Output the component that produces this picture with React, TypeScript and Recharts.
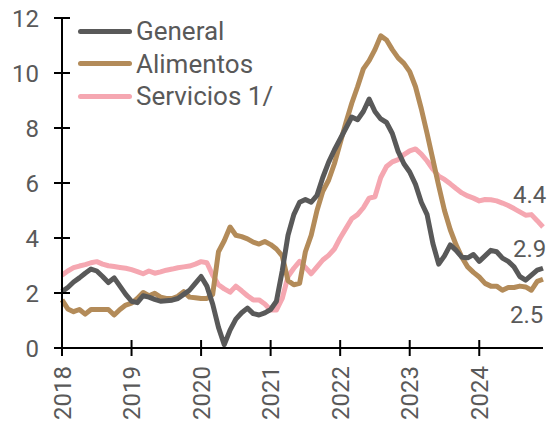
import { LineChart, Line, XAxis, YAxis, Legend } from 'recharts';

// monthly, Jan 2018 - Dec 2024
const years = ['2018', '2019', '2020', '2021', '2022', '2023', '2024'];

const general = [
  2.05, 2.2, 2.4, 2.55, 2.72, 2.87, 2.8, 2.6, 2.38, 2.55, 2.25, 1.95,
  1.7, 1.65, 1.9, 1.85, 1.77, 1.7, 1.72, 1.74, 1.8, 1.95, 2.1, 2.35,
  2.6, 2.25, 1.6, 0.75, 0.12, 0.65, 1.05, 1.28, 1.45, 1.25, 1.2, 1.28,
  1.4, 1.7, 2.8, 4.1, 4.85, 5.3, 5.4, 5.3, 5.55, 6.2, 6.75, 7.2,
  7.6, 8.0, 8.4, 8.3, 8.6, 9.05, 8.6, 8.33, 8.2, 7.8, 7.15, 6.7,
  6.4, 5.95, 5.3, 4.85, 3.8, 3.05, 3.35, 3.75, 3.55, 3.3, 3.28, 3.4,
  3.15, 3.35, 3.55, 3.5, 3.27, 3.15, 2.95, 2.6, 2.47, 2.65, 2.83, 2.9,
];

const alimentos = [
  1.75, 1.42, 1.32, 1.4, 1.23, 1.4, 1.4, 1.4, 1.4, 1.2, 1.4, 1.56,
  1.63, 1.8, 2.02, 1.9, 1.99, 1.85, 1.8, 1.8, 1.88, 2.05, 1.85, 1.83,
  1.8, 1.8, 1.95, 3.5, 3.9, 4.4, 4.1, 4.05, 3.97, 3.85, 3.78, 3.87,
  3.76, 3.6, 3.35, 2.45, 2.3, 2.35, 3.5, 4.1, 5.0, 5.7, 6.1, 6.7,
  7.45, 8.2, 8.9, 9.5, 10.15, 10.45, 10.85, 11.35, 11.2, 10.85, 10.55, 10.35,
  10.05, 9.5, 8.7, 7.8, 6.85, 5.9, 5.0, 4.3, 3.75, 3.3, 2.95, 2.75,
  2.58, 2.35, 2.25, 2.25, 2.1, 2.2, 2.2, 2.25, 2.22, 2.1, 2.42, 2.5,
];

const servicios = [
  2.65, 2.8, 2.92, 2.98, 3.03, 3.1, 3.14, 3.05, 2.99, 2.96, 2.93, 2.9,
  2.85, 2.78, 2.7, 2.8, 2.72, 2.77, 2.83, 2.87, 2.92, 2.95, 2.98, 3.05,
  3.14, 3.1, 2.65, 2.3, 2.15, 2.03, 2.25, 2.08, 1.9, 1.75, 1.75, 1.6,
  1.38, 1.38, 1.8, 2.6, 2.9, 3.15, 2.93, 2.7, 2.95, 3.2, 3.37, 3.6,
  4.0, 4.35, 4.7, 4.85, 5.1, 5.45, 5.5, 6.2, 6.6, 6.77, 6.85, 7.03,
  7.17, 7.24, 7.05, 6.8, 6.5, 6.25, 6.13, 5.97, 5.8, 5.64, 5.53, 5.45,
  5.35, 5.4, 5.39, 5.35, 5.27, 5.18, 5.07, 4.95, 4.83, 4.85, 4.63, 4.4,
];

const yTicks = [0, 2, 4, 6, 8, 10, 12];
const xTicks = years.map((_, i) => i * 12);

const data = general.map((g, i) => ({
  t: i,
  general: g,
  alimentos: alimentos[i],
  servicios: servicios[i],
}));
const LAST = data.length - 1;

const FONT = 'Roboto, sans-serif';
const TEXT = '#595959';
const C_GEN = '#595959';
const C_ALI = '#b38b59';
const C_SER = '#f5a7b1';

const series = [
  { key: 'general', name: 'General', color: C_GEN },
  { key: 'alimentos', name: 'Alimentos', color: C_ALI },
  { key: 'servicios', name: 'Servicios 1/', color: C_SER },
];

const YTick = (props: any) => {
  const { x, y, payload } = props;
  const ax = x + 25;
  return (
    <g>
      <line x1={ax - 8} x2={ax + 8} y1={y} y2={y} stroke="#000" strokeWidth={2} />
      <text x={x + 2} y={y} dy="0.36em" textAnchor="end" fill={TEXT} fontSize={24} fontFamily={FONT}>
        {payload.value}
      </text>
    </g>
  );
};

const XTick = (props: any) => {
  const { x, y, payload } = props;
  const ay = y - 8;
  const ty = ay + 18;
  return (
    <g>
      <line x1={x} x2={x} y1={ay - 8} y2={ay + 8} stroke="#000" strokeWidth={2} />
      <text
        x={x}
        y={ty}
        dy="0.36em"
        textAnchor="end"
        transform={`rotate(-90, ${x}, ${ty})`}
        fill={TEXT}
        fontSize={24}
        fontFamily={FONT}
      >
        {years[payload.value / 12]}
      </text>
    </g>
  );
};

// value label at the last point of each line
const endLabel = (dx: number, dy: number) => (props: any) => {
  if (props.index !== LAST) return null;
  return (
    <text x={props.x + dx} y={props.y + dy} fill={TEXT} fontSize={24} fontFamily={FONT}>
      {Number(props.value).toFixed(1)}
    </text>
  );
};

const LegendBox = () => (
  <div style={{ fontFamily: FONT, fontSize: 26, color: TEXT }}>
    {series.map((s) => (
      <div key={s.key} style={{ display: 'flex', alignItems: 'center', height: 32.5 }}>
        <div style={{ width: 54, height: 5, borderRadius: 3, background: s.color, marginRight: 4 }} />
        <span style={{ lineHeight: '26px' }}>{s.name}</span>
      </div>
    ))}
  </div>
);

export default function App() {
  return (
    <div style={{ position: 'absolute', left: 0, top: 0, width: 547, height: 427, background: '#fff' }}>
      <LineChart width={547} height={427} data={data} margin={{ top: 18, right: 4, left: 0, bottom: 0 }}>
        <XAxis
          dataKey="t"
          type="number"
          domain={[0, LAST]}
          ticks={xTicks}
          interval={0}
          height={79}
          tickSize={8}
          tickMargin={0}
          tickLine={false}
          axisLine={{ stroke: '#000', strokeWidth: 2 }}
          tick={<XTick />}
        />
        <YAxis
          type="number"
          domain={[0, 12]}
          ticks={yTicks}
          interval={0}
          width={62}
          tickSize={8}
          tickMargin={17}
          tickLine={false}
          axisLine={{ stroke: '#000', strokeWidth: 2 }}
          tick={<YTick />}
        />
        <Legend
          layout="vertical"
          align="center"
          verticalAlign="middle"
          wrapperStyle={{ left: 78, top: 15, width: 'auto', height: 'auto' }}
          content={<LegendBox />}
        />
        <Line
          dataKey="servicios"
          name="Servicios 1/"
          stroke={C_SER}
          strokeWidth={5}
          dot={false}
          strokeLinejoin="round"
          isAnimationActive={false}
          label={endLabel(-30, -24)}
        />
        <Line
          dataKey="alimentos"
          name="Alimentos"
          stroke={C_ALI}
          strokeWidth={5}
          dot={false}
          strokeLinejoin="round"
          isAnimationActive={false}
          label={endLabel(-33, 44)}
        />
        <Line
          dataKey="general"
          name="General"
          stroke={C_GEN}
          strokeWidth={5}
          dot={false}
          strokeLinejoin="round"
          isAnimationActive={false}
          label={endLabel(-30, -11)}
        />
      </LineChart>
    </div>
  );
}
